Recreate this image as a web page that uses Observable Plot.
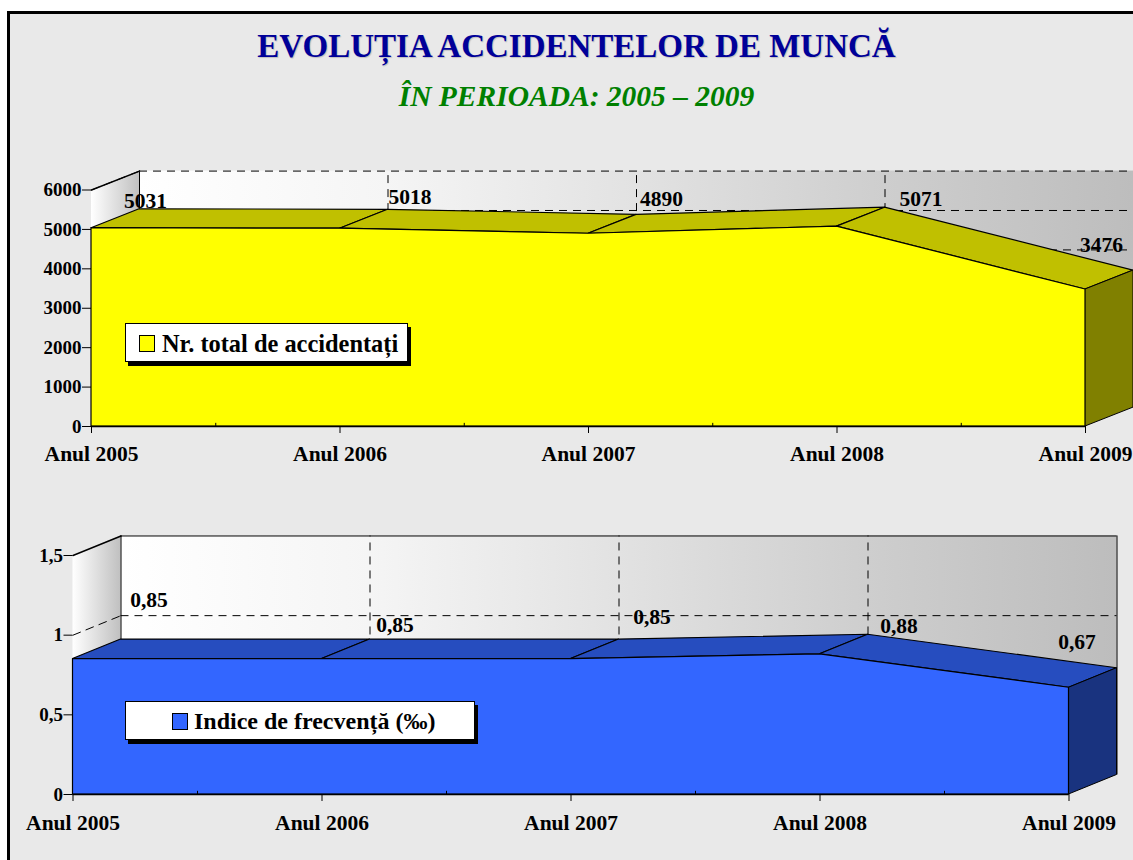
<!DOCTYPE html>
<html><head><meta charset="utf-8">
<script src="https://cdn.jsdelivr.net/npm/d3@7"></script>
<script src="https://cdn.jsdelivr.net/npm/@observablehq/plot@0.6"></script>
<style>
html,body{margin:0;padding:0;background:#fff;}
#page{position:relative;width:1133px;height:860px;overflow:hidden;font-family:"Liberation Serif",serif;}
#frame{position:absolute;left:7px;top:11px;width:1140px;height:860px;background:#e9e9e9;border:3px solid #000;box-sizing:border-box;}
#title,#subtitle{position:absolute;left:0;width:1153px;text-align:center;font-weight:bold;white-space:nowrap;}
#title{top:28px;font-size:33px;color:#000099;text-shadow:1px 1px 1px rgba(0,0,0,.18);}
#subtitle{top:80px;font-size:29.5px;font-style:italic;color:#008000;}
.legend{position:absolute;background:#fff;border:1px solid #000;box-sizing:border-box;box-shadow:3px 4px 0 #000;font-weight:bold;font-size:24px;color:#000;white-space:nowrap;}
.legend i{position:absolute;border:1px solid #000;box-sizing:border-box;width:16px;height:17px;}
.legend span{position:absolute;}
</style></head><body>
<div id="page"><div id="frame"></div>
<div id="title">EVOLUȚIA ACCIDENTELOR DE MUNCĂ</div>
<div id="subtitle">ÎN PERIOADA: 2005 – 2009</div>
</div>
<script>
const years = ["Anul 2005","Anul 2006","Anul 2007","Anul 2008","Anul 2009"];
const accidents = [5031,5018,4890,5071,3476];
const accidentLabels = ["5031","5018","4890","5071","3476"];
const accidentTicks = [0,1000,2000,3000,4000,5000,6000];
const accidentTickLabels = ["0","1000","2000","3000","4000","5000","6000"];
const frequency = [0.85,0.85,0.85,0.88,0.67];
const frequencyLabels = ["0,85","0,85","0,85","0,88","0,67"];
const frequencyTicks = [0,0.5,1,1.5];
const frequencyTickLabels = ["0","0,5","1","1,5"];

function chart(o){
  const {values,labels,ticks,tickLabels,yMax,ddx,ddy,front,top,side,gridVals,labelDx,labelDy,gid} = o;
  const n = values.length, idx = d3.range(n);
  const grad = () => {
    const ns="http://www.w3.org/2000/svg";
    const defs=document.createElementNS(ns,"defs");
    defs.innerHTML=`<linearGradient id="${gid}" x1="0" x2="1" y1="0" y2="0"><stop offset="0" stop-color="#fff"/><stop offset="0.25" stop-color="#f5f5f5"/><stop offset="0.5" stop-color="#e2e2e2"/><stop offset="0.75" stop-color="#cecece"/><stop offset="1" stop-color="#bdbdbd"/></linearGradient><linearGradient id="${gid}w" x1="0" x2="1" y1="0" y2="0"><stop offset="0" stop-color="#fff"/><stop offset="1" stop-color="#c0c0c0"/></linearGradient>`;
    return defs;
  };
  const dash = {stroke:"#000",strokeWidth:1,strokeDasharray:"8,6"};
  const segs = idx.slice(0,-1).flatMap(i=>[
    {s:i,x1:i,y1:values[i],x2:i+ddx,y2:values[i]+ddy},
    {s:i,x1:i+1,y1:values[i+1],x2:i+1+ddx,y2:values[i+1]+ddy}]);
  return Plot.plot({
    width:1133,height:o.height,
    marginLeft:o.left,marginRight:o.right,marginTop:o.mtop,marginBottom:o.mbottom,
    style:{background:"transparent",fontFamily:"'Liberation Serif',serif",fontWeight:"bold",color:"#000",overflow:"visible"},
    x:{domain:[0,n-1]},
    y:{domain:[0,yMax]},
    marks:[
      grad,
      Plot.rect([0],{x1:ddx,x2:n-1+ddx,y1:ddy,y2:yMax+ddy,fill:`url(#${gid})`}),
      Plot.area([0,ddx],{x1:d=>d,y1:d=>d?ddy:0,y2:d=>d?yMax+ddy:yMax,fill:`url(#${gid}w)`}),
      o.wallEdge?Plot.ruleX([n-1+ddx],{y1:ddy,y2:yMax+ddy,stroke:"#000"}):null,
      o.wallEdge?Plot.ruleY([yMax+ddy],{x1:ddx,x2:n-1+ddx,stroke:"#000"}):null,
      gridVals.map(g=>Plot.ruleY([g+ddy],{x1:ddx,x2:n-1+ddx,...dash})),
      gridVals.map(g=>Plot.line([[0,g],[ddx,g+ddy]],dash)),
      idx.slice(1,-1).map(i=>Plot.ruleX([i+ddx],{y1:ddy,y2:yMax+ddy,...dash})),
      Plot.line([[0,yMax],[ddx,yMax+ddy]],{stroke:"#000"}),
      Plot.ruleX([ddx],{y1:values[0]+ddy,y2:yMax+ddy,stroke:"#000"}),
      Plot.area(segs,{x1:"x1",y1:"y1",x2:"x2",y2:"y2",z:"s",fill:top,stroke:"#000",strokeWidth:1.2}),
      Plot.area([n-1,n-1+ddx],{x1:d=>d,y1:d=>d===n-1?0:ddy,y2:d=>d===n-1?values[n-1]:values[n-1]+ddy,fill:side,stroke:"#000",strokeWidth:1}),
      Plot.areaY(idx,{x:d=>d,y:d=>values[d],fill:front,stroke:"#000",strokeWidth:1.2}),
      Plot.ruleY([0],{x1:0,x2:n-1,stroke:"#000",strokeWidth:1.5}),
      Plot.ruleX(idx.slice(0,-1).map(d=>d+0.5),{y1:0,y2:o.minor,stroke:"#000"}),
      Plot.axisY({ticks,tickSize:9,tickPadding:1,tickFormat:d=>tickLabels[ticks.indexOf(d)],fontSize:o.yFont,label:null,stroke:"#000",fill:"#000",fontWeight:"bold"}),
      Plot.axisX({ticks:idx,tickSize:7,tickPadding:o.xPad,tickFormat:d=>years[d],fontSize:21.5,label:null,stroke:"#000",fill:"#000",fontWeight:"bold"}),
      idx.map(i=>Plot.text([i],{x:d=>d+ddx,y:d=>values[d]+ddy,text:d=>labels[d],dx:labelDx[i],dy:labelDy[i],fontSize:21.5,fontWeight:"bold",fill:"#000",textAnchor:"middle",lineAnchor:"bottom"}))
    ]
  });
}
const page=document.getElementById("page");
function place(svg,top){svg.style.position="absolute";svg.style.left="0";svg.style.top=top+"px";page.appendChild(svg);}
place(chart({gid:"gA",height:310,left:91,right:48,mtop:29.5,mbottom:44,xPad:12,values:accidents,labels:accidentLabels,ticks:accidentTicks,tickLabels:accidentTickLabels,yMax:6000,ddx:0.1932,ddy:480,front:"#ffff00",top:"#c0c000",side:"#808000",gridVals:[6000,5000,4000],labelDx:[6,22,25,36,-32],labelDy:[-1,-6,-9,-2,-19],minor:80,yFont:19}),160);
place(chart({gid:"gB",height:340,left:72.5,right:64.5,mtop:35,mbottom:66,xPad:13,values:frequency,labels:frequencyLabels,ticks:frequencyTicks,tickLabels:frequencyTickLabels,yMax:1.5,ddx:0.1928,ddy:0.1225,front:"#3366ff",top:"#264dbf",side:"#19337f",gridVals:[1,0.5],labelDx:[28,25,33,31,-40],labelDy:[-33,-8,-16,-2,-19],minor:0.02,yFont:19,wallEdge:true}),520);
function legend(box,sw,txt,color,text,size){
  const d=document.createElement("div");d.className="legend";
  Object.assign(d.style,{left:box[0]+"px",top:box[1]+"px",width:box[2]+"px",height:box[3]+"px",fontSize:size+"px"});
  const i=document.createElement("i");i.style.left=sw[0]+"px";i.style.top=sw[1]+"px";i.style.background=color;
  const s=document.createElement("span");s.textContent=text;s.style.left=txt[0]+"px";s.style.top=txt[1]+"px";
  d.append(i,s);page.appendChild(d);
}
legend([125,323,283,39],[13,11],[36,6],"#ffff00","Nr. total de accidentați",24.4);
legend([125,701,350,39],[46,11],[68,6],"#3366ff","Indice de frecvență (‰)",24);
</script></body></html>
